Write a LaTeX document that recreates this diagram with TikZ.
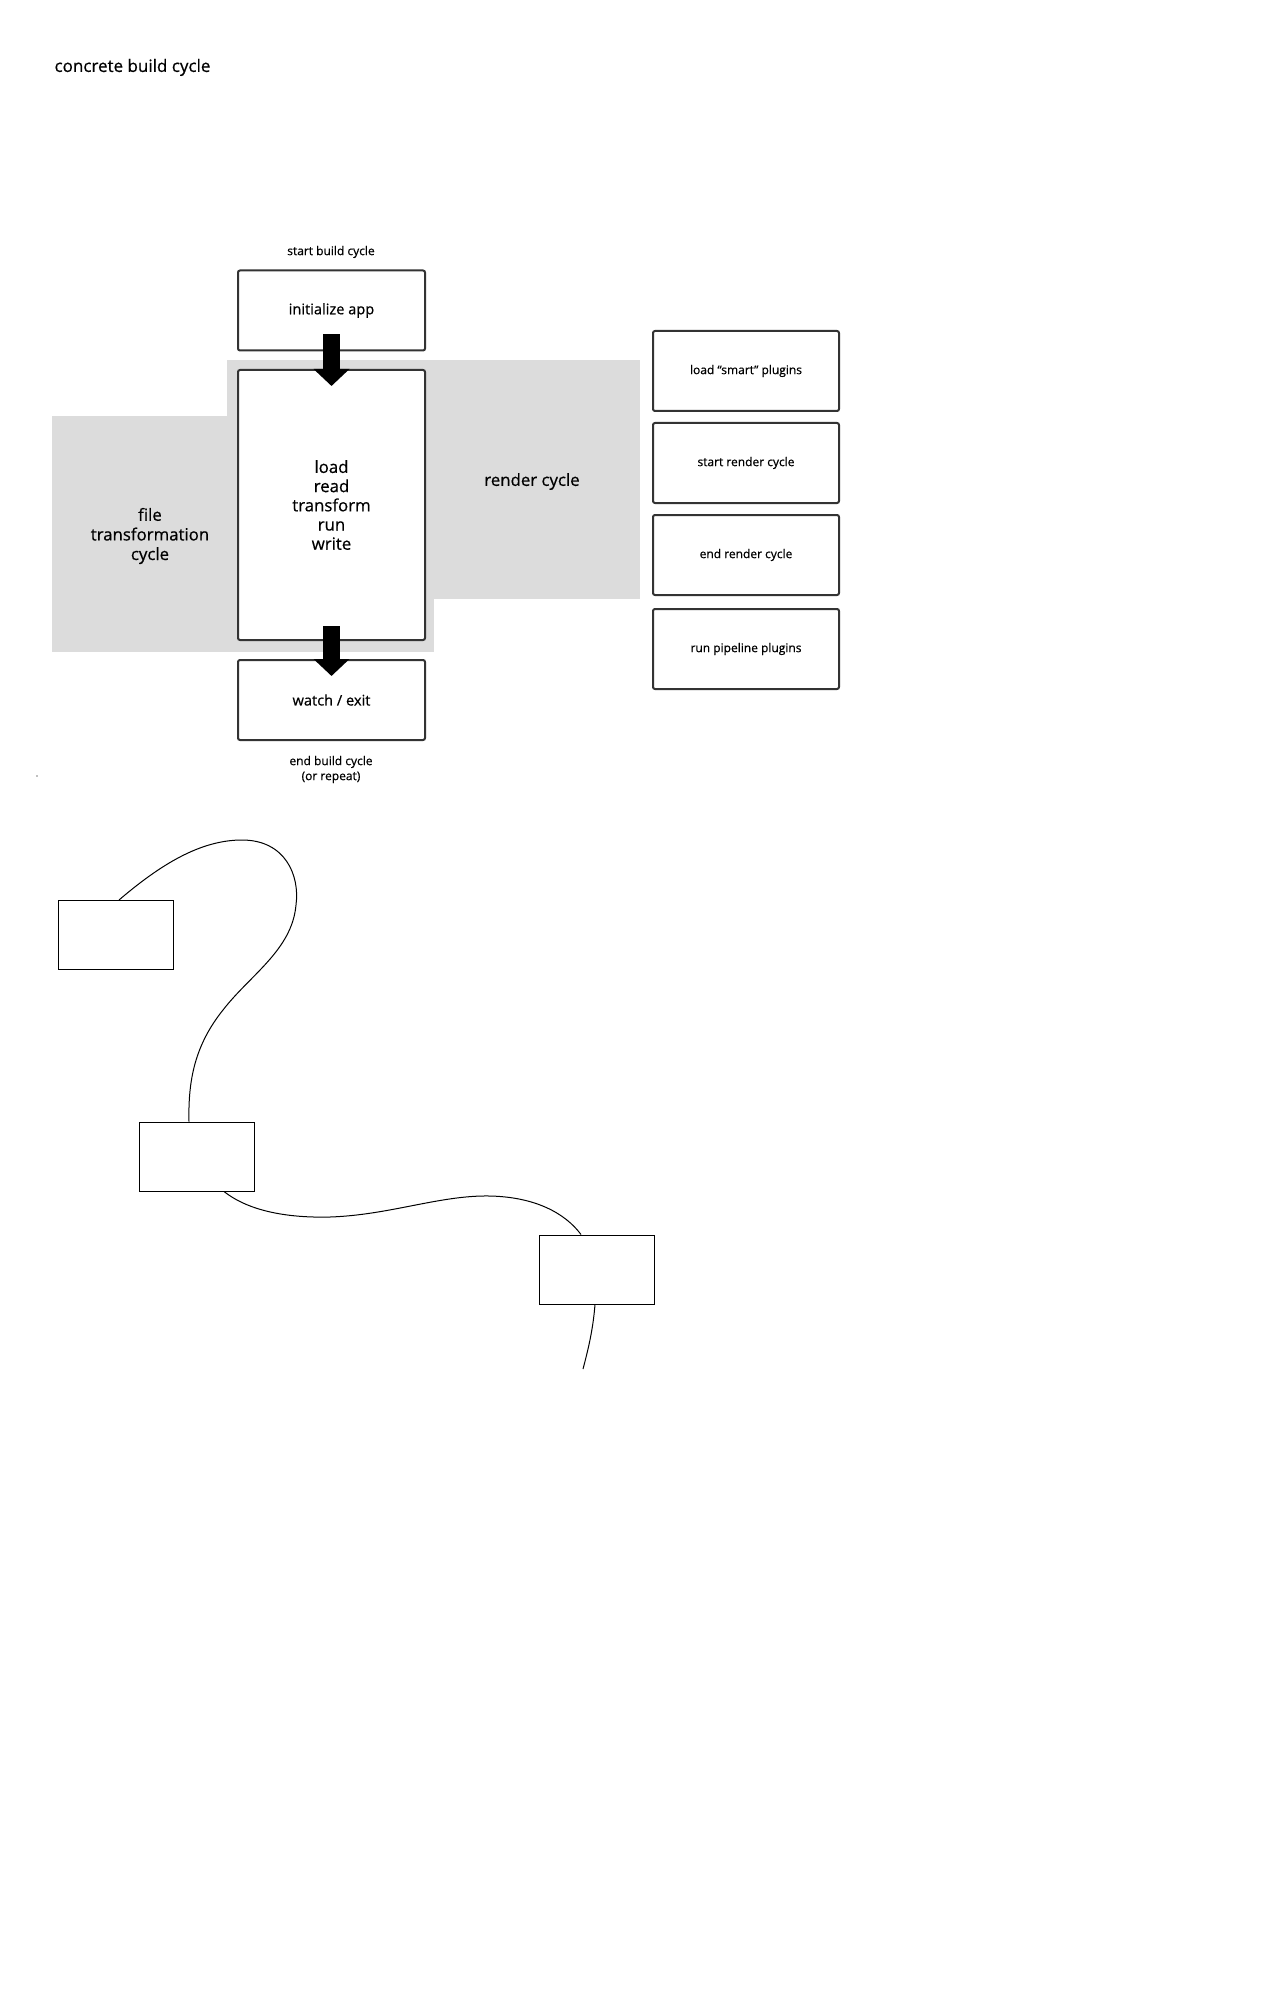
\documentclass[tikz,border=0pt]{standalone}
\usepackage{fontspec}
\setmainfont{Open Sans}[FakeBold=0.6]
\usetikzlibrary{arrows.meta}
\definecolor{fondogris}{RGB}{220,220,220}
\definecolor{borde}{RGB}{51,51,51}

\begin{document}
\begin{tikzpicture}[x=0.5pt, y=-0.5pt,
    caja/.style={draw=borde, line width=1pt, rounded corners=1pt, fill=white,
      minimum width=93.5pt, minimum height=40pt, inner sep=0pt, align=center,
      font=\fontsize{7.3}{9}\selectfont},
    cajachica/.style={caja, minimum width=93pt, font=\fontsize{6}{7.5}\selectfont},
    vacia/.style={draw=black, line width=0.5pt, minimum width=57.5pt,
      minimum height=34.5pt, inner sep=0pt},
    flecha/.style={line width=8.5pt, -{Triangle[width=17.5pt, length=8.5pt]}},
    curva/.style={line width=0.5pt},
    grande/.style={font=\fontsize{8.4}{9.8}\selectfont, align=center},
    chica/.style={font=\fontsize{6}{7.5}\selectfont, align=center}]
    \useasboundingbox (0,0) rectangle (1280,2000);

    % Zonas grises
    \fill[fondogris] (227,360) rectangle (640,599);
    \fill[fondogris] (52,416) rectangle (434,652);

    % Titulo
    \node[anchor=west, font=\fontsize{8.5}{10}\selectfont] (titulo) at (47.5,67.5) {concrete build cycle};

    % Ciclo principal
    \node[chica] (inicio) at (331,252) {start build cycle};
    \node[caja] (init) at (331.5,310.5) {initialize app};
    \node[caja, minimum height=135pt, grande, font=\fontsize{8.4}{9.6}\selectfont] (proc) at (331.5,505) {load\\read\\transform\\run\\write};
    \node[caja] (watch) at (331.5,700) {watch / exit};
    \node[chica] (fin) at (331,769.5) {end build cycle\\(or repeat)};

    % Etiquetas de las zonas
    \node[grande] (ftc) at (150,536) {file\\transformation\\cycle};
    \node[grande] (rc) at (532,481.5) {render cycle};

    % Flechas
    \draw[flecha] ([yshift=8.5pt]init.south) -- ([yshift=-8.5pt]proc.north);
    \draw[flecha] ([yshift=7.5pt]proc.south) -- ([yshift=-8.5pt]watch.north);

    % Cajas a la derecha
    \node[cajachica] (smart) at (746,371) {load “smart” plugins};
    \node[cajachica] (startr) at (746,463) {start render cycle};
    \node[cajachica] (endr) at (746,555) {end render cycle};
    \node[cajachica] (pipe) at (746,649) {run pipeline plugins};

    % Punto suelto
    \fill[black!50] (37,776) circle (0.4pt);

    % Cajas vacias y curvas
    \node[vacia] (bxa) at (116,935) {};
    \node[vacia] (bxb) at (196.5,1156.5) {};
    \node[vacia] (bxc) at (596.5,1269.5) {};
    \coordinate (cola) at (583,1369);

    \draw[curva] ([xshift=1.5pt]bxa.north) .. controls (160,865) and (200,840) .. (242,840)
        .. controls (285,840) and (300,875) .. (296,905)
        .. controls (292,950) and (250,975) .. (223,1010)
        .. controls (195,1045) and (188,1080) .. ([xshift=-3.75pt]bxb.north);
    \draw[curva] ([xshift=13.75pt]bxb.south) .. controls (250,1212) and (290,1218) .. (330,1217)
        .. controls (390,1215) and (440,1195) .. (490,1196)
        .. controls (535,1197) and (565,1213) .. ([xshift=-7.75pt]bxc.north);
    \draw[curva] ([xshift=-0.75pt]bxc.south) .. controls (593,1330) and (588,1350) .. (cola);
\end{tikzpicture}
\end{document}
